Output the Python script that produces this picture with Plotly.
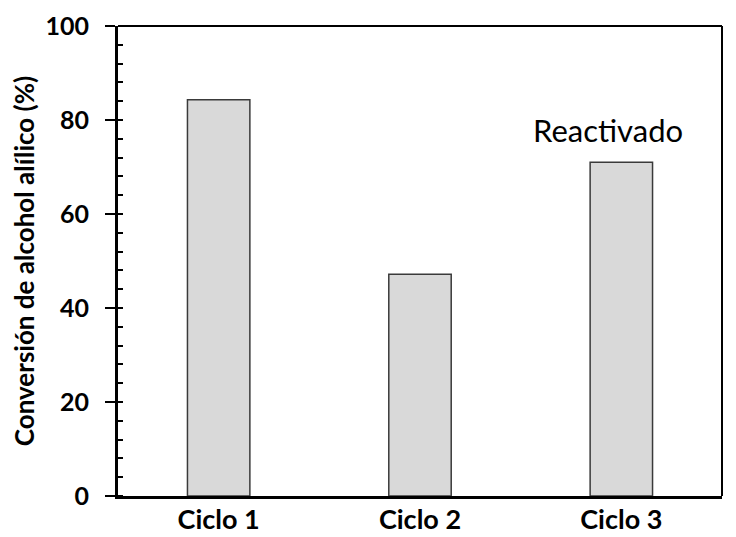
import plotly.graph_objects as go

categories = ["Ciclo 1", "Ciclo 2", "Ciclo 3"]
conversion = [84.3, 47.2, 71.0]
y_ticks = [0, 20, 40, 60, 80, 100]
annotation_text = "Reactivado"
annotation_y = 77.8
y_title = "Conversión de alcohol alílico (%)"

FONT = "Lato"

fig = go.Figure()
fig.add_trace(go.Bar(
    x=categories, y=conversion,
    marker=dict(color="#d9d9d9", line=dict(color="#3a3a3a", width=1.5)),
    showlegend=False,
))

fig.add_annotation(
    x=categories[2], y=annotation_y, text=annotation_text,
    showarrow=False, xshift=-13,
    font=dict(family=FONT, size=31, color="#000000"),
)

# top and right frame lines
fig.add_shape(type="line", xref="paper", yref="paper", x0=0, x1=1, y0=1, y1=1,
              line=dict(color="#000000", width=2))
fig.add_shape(type="line", xref="paper", yref="paper", x0=1, x1=1, y0=0, y1=1,
              line=dict(color="#000000", width=2))

fig.update_layout(
    width=728, height=529,
    margin=dict(l=110, r=14, t=18, b=41, autoexpand=False),
    paper_bgcolor="white", plot_bgcolor="white",
    bargap=0.69,
    font=dict(family=FONT, color="#000000"),
    xaxis=dict(
        automargin=False,
        showline=True, linecolor="#000000", linewidth=3,
        ticks="", showgrid=False,
        ticklabelstandoff=-2,
        tickfont=dict(family=FONT, size=27, color="#000000", weight="bold"),
    ),
    yaxis=dict(
        automargin=False,
        range=[0, 100], tickvals=y_ticks,
        showline=True, linecolor="#000000", linewidth=3,
        ticks="outside", ticklen=10, tickwidth=2, tickcolor="#000000",
        ticklabelstandoff=11,
        minor=dict(ticks="inside", dtick=4, ticklen=5, tickwidth=1.5, tickcolor="#000000", showgrid=False),
        showgrid=False, zeroline=False,
        tickfont=dict(family=FONT, size=25, color="#000000", weight="bold"),
        title=dict(text=y_title, font=dict(family=FONT, size=26, color="#000000", weight="bold"), standoff=16),
    ),
)

fig.write_html("out.html")
